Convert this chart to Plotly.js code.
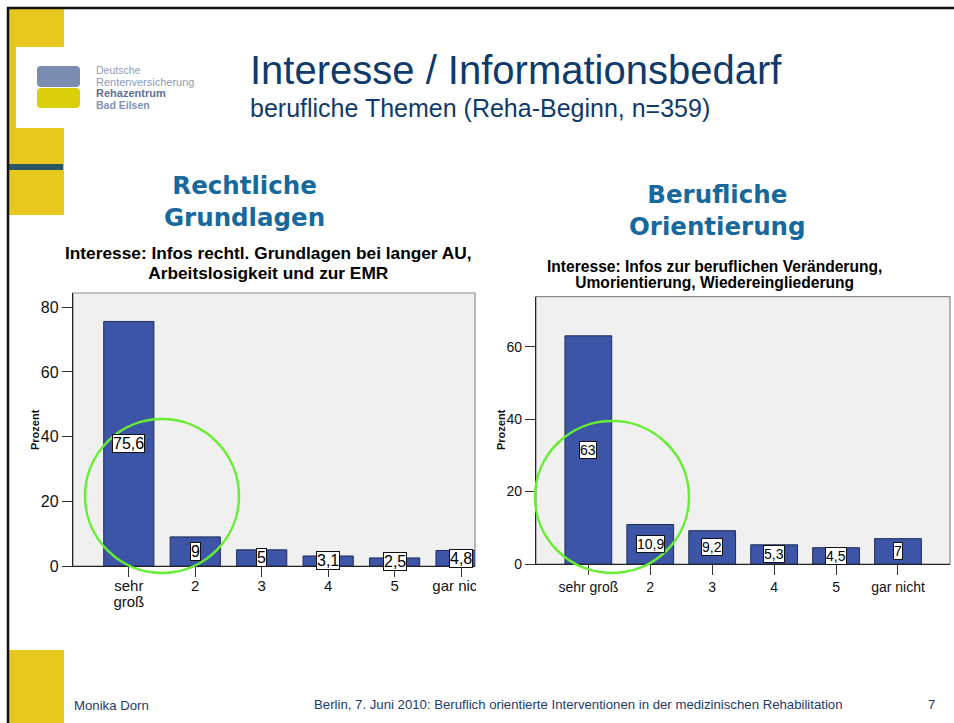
<!DOCTYPE html>
<html><head><meta charset="utf-8">
<script src="https://cdn.plot.ly/plotly-3.0.1.min.js"></script>
<style>html,body{margin:0;padding:0;background:#fff;overflow:hidden}#chart{width:954px;height:723px}</style>
</head><body><div id="chart"></div>
<script>
// ---- data ----
const categories = ['sehr groß', '2', '3', '4', '5', 'gar nicht'];
const leftTickLabels = ['sehr<br>groß', '2', '3', '4', '5', 'gar nicht'];
const rightTickLabels = ['sehr groß', '2', '3', '4', '5', 'gar nicht'];
const rechtlValues = [75.6, 9, 5, 3.1, 2.5, 4.8];
const beruflValues = [63, 10.9, 9.2, 5.3, 4.5, 7];
const leftYTicks = [0, 20, 40, 60, 80];
const rightYTicks = [0, 20, 40, 60];

// ---- helpers ----
const W = 954, H = 723;
const X = p => p / W, Y = p => 1 - p / H;
const fmt = v => String(v).replace('.', ',');
const SANS = 'Liberation Sans, Arial, sans-serif';
const VERD = 'DejaVu Sans, Verdana, sans-serif';
const barColor = '#3c55a6', barLine = '#1f2b58';
// text whose glyph size differs from its line spacing
const sized = (t, px) => t.split('<br>').map(s => `<span style="font-size:${px}px">${s}</span>`).join('<br>');

const traces = [
  {type: 'bar', x: categories, y: rechtlValues, xaxis: 'x', yaxis: 'y', width: 0.755,
   marker: {color: barColor, line: {color: barLine, width: 1}}, hoverinfo: 'skip'},
  {type: 'bar', x: categories, y: beruflValues, xaxis: 'x2', yaxis: 'y2', width: 0.755,
   marker: {color: barColor, line: {color: barLine, width: 1}}, hoverinfo: 'skip'}
];

const axBase = {showgrid: false, zeroline: false, ticks: 'outside', ticklen: 10, tickcolor: '#333',
  showline: true, linecolor: '#222', linewidth: 1.2, fixedrange: true};

const layout = {
  width: W, height: H, margin: {l: 0, r: 0, t: 0, b: 0}, showlegend: false,
  paper_bgcolor: '#ffffff', plot_bgcolor: '#f0f0f0',
  xaxis: Object.assign({}, axBase, {domain: [X(73), X(475)], anchor: 'y', type: 'category',
    range: [-0.84, 5.21], tickvals: categories, ticktext: leftTickLabels.map(t => sized(t, 15)),
    tickfont: {family: SANS, size: 11.8, color: '#111'}}),
  yaxis: Object.assign({}, axBase, {domain: [Y(566), Y(293)], anchor: 'x', range: [0, 84.4],
    tickvals: leftYTicks, tickfont: {family: SANS, size: 16, color: '#111'}}),
  xaxis2: Object.assign({}, axBase, {domain: [X(536), X(950)], anchor: 'y2', type: 'category',
    range: [-0.845, 5.84], tickvals: categories, ticktext: rightTickLabels,
    tickfont: {family: SANS, size: 14, color: '#111'}}),
  yaxis2: Object.assign({}, axBase, {domain: [Y(564), Y(296.7)], anchor: 'x2', range: [0, 73.8],
    tickvals: rightYTicks, tickfont: {family: SANS, size: 14, color: '#111'}}),
  shapes: [], annotations: []
};

const S = layout.shapes, A = layout.annotations;
const rect = (x0, y0, x1, y1, fill, layer) => S.push({type: 'rect', xref: 'paper', yref: 'paper',
  x0: X(x0), x1: X(x1), y0: Y(y1), y1: Y(y0), fillcolor: fill, line: {width: 0}, layer: layer || 'above'});

// plot frames
S.push({type: 'rect', xref: 'x domain', yref: 'y domain', x0: 0, x1: 1, y0: 0, y1: 1, line: {color: '#8a8a8a', width: 1.2}, layer: 'below'});
S.push({type: 'rect', xref: 'x2 domain', yref: 'y2 domain', x0: 0, x1: 1, y0: 0, y1: 1, line: {color: '#8a8a8a', width: 1.2}, layer: 'below'});
// clip of the left chart's right edge
rect(476, 285, 506, 612, '#ffffff');

// slide decoration
rect(9, 9, 64, 215, '#e6c81e');
rect(16, 47, 64, 128, '#ffffff');
rect(9, 164, 63, 170, '#2b5663');
rect(9, 650, 64, 723, '#e6c81e');
S.push({type: 'line', xref: 'paper', yref: 'paper', x0: X(8), x1: X(8), y0: 0, y1: Y(7), line: {color: '#111', width: 2.5}, layer: 'above'});
S.push({type: 'line', xref: 'paper', yref: 'paper', x0: X(7), x1: 1, y0: Y(8), y1: Y(8), line: {color: '#111', width: 2.5}, layer: 'above'});

// logo
const rr = (x0, y0, x1, y1, r, fill) => {
  const p = `M${X(x0 + r)},${Y(y0)} L${X(x1 - r)},${Y(y0)} Q${X(x1)},${Y(y0)} ${X(x1)},${Y(y0 + r)} L${X(x1)},${Y(y1 - r)} Q${X(x1)},${Y(y1)} ${X(x1 - r)},${Y(y1)} L${X(x0 + r)},${Y(y1)} Q${X(x0)},${Y(y1)} ${X(x0)},${Y(y1 - r)} L${X(x0)},${Y(y0 + r)} Q${X(x0)},${Y(y0)} ${X(x0 + r)},${Y(y0)} Z`;
  S.push({type: 'path', xref: 'paper', yref: 'paper', path: p, fillcolor: fill, line: {width: 0}, layer: 'above'});
};
rr(37, 66, 80, 87, 4, '#7a8cb0');
rr(37, 88, 80, 108, 4, '#dacf0a');

// green circles
S.push({type: 'circle', xref: 'paper', yref: 'paper', x0: X(162 - 77), x1: X(162 + 77), y0: Y(496 + 77), y1: Y(496 - 77),
  line: {color: '#66ee33', width: 2.5}, layer: 'above'});
S.push({type: 'circle', xref: 'paper', yref: 'paper', x0: X(612 - 77), x1: X(612 + 77), y0: Y(497 + 76), y1: Y(497 - 76),
  line: {color: '#66ee33', width: 2.5}, layer: 'above'});

// data labels (x given as category index)
const addLabels = (vals, xr, yr, size) => vals.forEach((v, i) => A.push({
  xref: xr, yref: yr, x: i, y: v / 2, text: fmt(v), showarrow: false,
  bgcolor: '#ffffff', bordercolor: '#111', borderwidth: 1, borderpad: 0,
  font: {family: SANS, size: size, color: '#000'}}));
addLabels(rechtlValues, 'x', 'y', 16);
addLabels(beruflValues, 'x2', 'y2', 14);

const txt = (x, y, text, font, xanchor, extra) => A.push(Object.assign({xref: 'paper', yref: 'paper',
  x: X(x), y: Y(y), text: text, showarrow: false, xanchor: xanchor || 'center', yanchor: 'middle', font: font}, extra || {}));

// axis titles
txt(35, 430, '<b>Prozent</b>', {family: SANS, size: 11, color: '#111'}, 'center', {textangle: -90});
txt(501, 430, '<b>Prozent</b>', {family: SANS, size: 11, color: '#111'}, 'center', {textangle: -90});

// chart titles
txt(268, 263, sized('<b>Interesse: Infos rechtl. Grundlagen bei langer AU,</b><br><b>Arbeitslosigkeit und zur EMR</b>', 17.3),
  {family: SANS, size: 15.4, color: '#000'});
txt(714, 274, sized('<b>Interesse: Infos zur beruflichen Veränderung,</b><br><b>Umorientierung, Wiedereingliederung</b>', 15.6),
  {family: SANS, size: 12.4, color: '#000'});

// section headings
txt(245, 201, '<b>Rechtliche<br>Grundlagen</b>', {family: VERD, size: 24.5, color: '#17689c'});
txt(717, 210, '<b>Berufliche<br>Orientierung</b>', {family: VERD, size: 24.5, color: '#17689c'});

// slide titles
txt(248, 70, 'Interesse / Informationsbedarf', {family: SANS, size: 40, color: '#0f3a6c'}, 'left');
txt(248, 108, 'berufliche Themen (Reha-Beginn, n=359)', {family: SANS, size: 25, color: '#0f3a6c'}, 'left');

// logo text (one block, line spacing ~11.5 px)
txt(94, 87.5,
  '<span style="font-size:10.5px;fill:#8c9cbe">Deutsche</span><br>' +
  '<span style="font-size:11px;fill:#8c9cbe">Rentenversicherung</span><br>' +
  '<span style="font-size:11px;fill:#5f6f98"><b>Rehazentrum</b></span><br>' +
  '<span style="font-size:10.5px;fill:#8192b6"><b>Bad Eilsen</b></span>',
  {family: SANS, size: 8.85, color: '#8c9cbe'}, 'left', {align: 'left'});

// footer
txt(72, 705, 'Monika Dorn', {family: SANS, size: 13.2, color: '#1d3b6d'}, 'left');
txt(312, 704, 'Berlin, 7. Juni 2010: Beruflich orientierte Interventionen in der medizinischen Rehabilitation', {family: SANS, size: 13.2, color: '#1d3b6d'}, 'left');
txt(931, 704, '7', {family: SANS, size: 13.2, color: '#1d3b6d'}, 'center');

Plotly.newPlot('chart', traces, layout, {displayModeBar: false, staticPlot: true});
</script></body></html>
